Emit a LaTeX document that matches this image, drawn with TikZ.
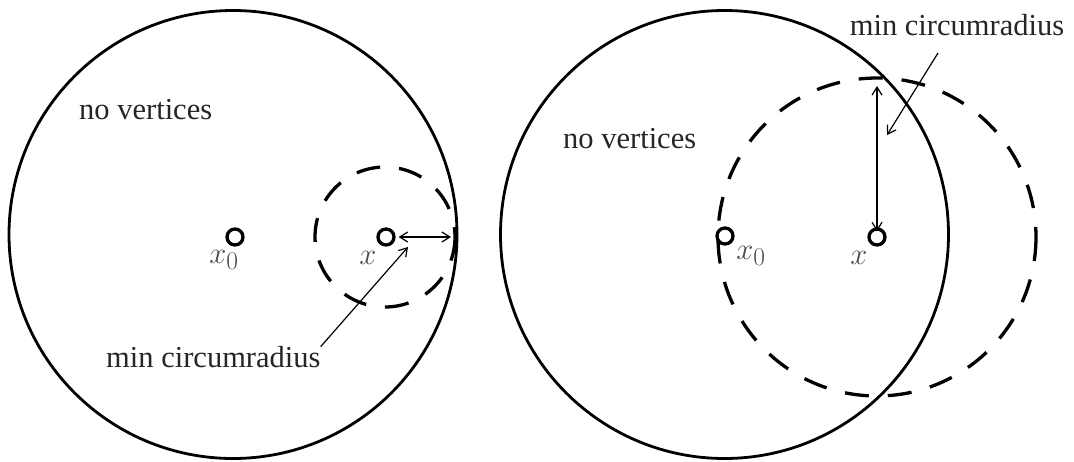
\documentclass[tikz,border=0pt]{standalone}
\usepackage{graphicx}
\usepackage{fontspec}
\setmainfont{Liberation Serif}
\usetikzlibrary{arrows.meta}
\newcommand{\mlab}[1]{\scalebox{1.23}{$#1$}}
\begin{document}
\begin{tikzpicture}[x=1pt,y=-1pt,
  bigcirc/.style={draw=black,line width=2.8pt},
  dashcirc/.style={draw=black,line width=3.3pt,dash pattern=on 24pt off 19pt},
  pt/.style={circle,draw=black,line width=3.3pt,minimum size=16pt,inner sep=0pt},
  lbl/.style={font=\fontsize{30.5}{36}\selectfont,text=black!85,inner sep=0pt},
  mlbl/.style={font=\fontsize{24.88}{30}\selectfont,text=black!70,inner sep=0pt},
  dimarrow/.style={line width=1.2pt,{Straight Barb[length=8pt,width=10pt]}-{Straight Barb[length=8pt,width=10pt]}},
  ptrarrow/.style={line width=1.2pt,-{Straight Barb[length=8pt,width=10pt]}}]
\useasboundingbox (0,0) rectangle (1074,461);
% ---------- left panel ----------
\draw[bigcirc] (233,234.5) circle[radius=224];
\draw[dashcirc] (385,237) circle[radius=70];
\node[pt] (lx0) at (235,237) {};
\node[pt] (lx) at (386,237) {};
\node[mlbl] (lx0lab) at (224,260) {\mlab{x_0}};
\node[mlbl] (lxlab) at (368,258) {\mlab{x}};
\coordinate (lrim) at (451,237);
\draw[dimarrow] (lx.east) ++(3,0) coordinate (lxs) -- (lrim);
\node[lbl,anchor=base west] (lnov) at (79,119) {no vertices};
\node[lbl,anchor=base west] (lmin) at (106,367) {min circumradius};
\coordinate (lptr) at (408,247);
\draw[ptrarrow] (lmin.north east) ++(0,1) -- (lptr);
% ---------- right panel ----------
\draw[bigcirc] (724.5,234.5) circle[radius=224];
\draw[dashcirc] (877,237) circle[radius=159];
\node[pt] (rx0) at (725,236) {};
\node[pt] (rx) at (877,237) {};
\node[mlbl] (rx0lab) at (751,256) {\mlab{x_0}};
\node[mlbl] (rxlab) at (859,258) {\mlab{x}};
\coordinate (rtop) at (877,86);
\draw[dimarrow] (rtop) -- ([yshift=-4pt]rx.north);
\node[lbl,anchor=base west] (rnov) at (563,148) {no vertices};
\node[lbl,anchor=base] (rmin) at (957,35) {min circumradius};
\coordinate (rptrs) at (938,53);
\coordinate (rptr) at (887,135);
\draw[ptrarrow] (rptrs) -- (rptr);
\end{tikzpicture}
\end{document}
